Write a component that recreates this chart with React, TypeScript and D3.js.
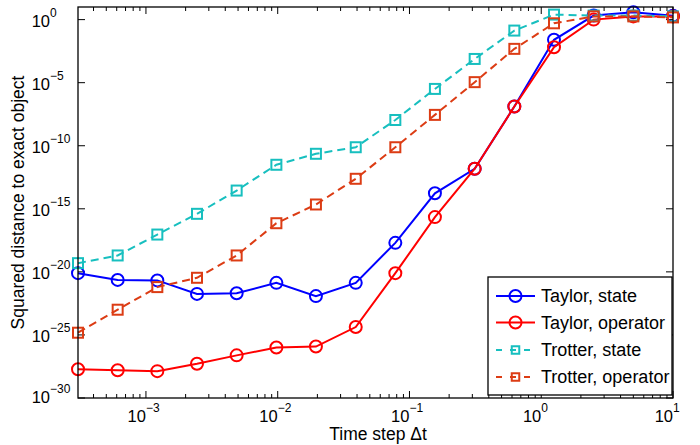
import React from "react";
import * as d3 from "d3";

// time steps (10 / 2^k)
const steps = [0.000305, 0.00061, 0.00122, 0.00244, 0.00488, 0.00977, 0.0195, 0.0391, 0.0781, 0.156, 0.3125, 0.625, 1.25, 2.5, 5, 10];

const taylorState = [7.9e-21, 2.3e-21, 2.1e-21, 1.8e-22, 2.0e-22, 1.35e-21, 1.2e-22, 1.35e-21, 2.0e-18, 1.7e-14, 1.5e-12, 1.3e-7, 0.025, 2.1, 3.8, 2.0];
const taylorOperator = [1.9e-28, 1.6e-28, 1.35e-28, 5.2e-28, 2.4e-27, 1.0e-26, 1.2e-26, 4.2e-25, 7.9e-21, 2.2e-16, 1.5e-12, 1.3e-7, 6.5e-3, 1.0, 1.8, 1.8];
const trotterState = [4.9e-20, 2.0e-19, 9.1e-18, 4.0e-16, 2.8e-14, 3.1e-12, 2.3e-11, 7.6e-11, 1.1e-8, 3.2e-6, 7.6e-4, 0.135, 2.5, 2.1, 2.1, 1.8];
const trotterOperator = [1.5e-25, 1.0e-23, 6.2e-22, 3.4e-21, 2.0e-19, 7.2e-17, 2.2e-15, 2.4e-13, 7.6e-11, 2.8e-8, 1.1e-5, 4.8e-3, 0.51, 1.8, 1.8, 1.5];

const seriesNames = ["Taylor, state", "Taylor, operator", "Trotter, state", "Trotter, operator"];

const xTickExps = [-3, -2, -1, 0, 1];
const yTickExps = [0, -5, -10, -15, -20, -25, -30];

const W = 700, H = 445;
const left = 78, right = 673, top = 7, bottom = 398;
const font = "Liberation Sans, Arial, sans-serif";

export default function App() {
  const x = d3.scaleLog().domain([steps[0], 10]).range([left, right]);
  const y = d3.scaleLog().domain([1e-30, 1e1]).range([bottom, top]);

  const series = [
    { name: seriesNames[0], vals: taylorState, color: "#0000ff", dash: null, mark: "o" },
    { name: seriesNames[1], vals: taylorOperator, color: "#ff0000", dash: null, mark: "o" },
    { name: seriesNames[2], vals: trotterState, color: "#17bfbf", dash: "8,5", mark: "s" },
    { name: seriesNames[3], vals: trotterOperator, color: "#dc3c14", dash: "8,5", mark: "s" },
  ];

  const line = d3.line<number>().x((d, i) => x(steps[i])).y(d => y(d));

  // minor x ticks
  const minorX: number[] = [];
  for (let e = -4; e <= 0; e++) {
    for (let m = 2; m <= 9; m++) {
      const v = m * Math.pow(10, e);
      if (v >= steps[0] && v <= 10) minorX.push(v);
    }
  }

  const marker = (mark: string, cx: number, cy: number, color: string, key: any, size = 1) =>
    mark === "o" ? (
      <circle key={key} cx={cx} cy={cy} r={6 * size} fill="none" stroke={color} strokeWidth={2} />
    ) : (
      <rect key={key} x={cx - 5 * size} y={cy - 5 * size} width={10 * size} height={10 * size} fill="none" stroke={color} strokeWidth={2} />
    );

  const lgX = 488, lgY = 277, lgW = 184, lgH = 118;
  const lgRows = [296, 322.5, 350, 377];

  return (
    <svg width={W} height={H} style={{ position: "absolute", left: 0, top: 0, background: "#fff" }} fontFamily={font}>
      <rect x={0} y={0} width={W} height={H} fill="#fff" />
      {/* ticks */}
      <g stroke="#000" strokeWidth={1}>
        {xTickExps.map(e => {
          const px = x(Math.pow(10, e));
          return (
            <g key={"xt" + e}>
              <line x1={px} x2={px} y1={bottom} y2={bottom - 7} />
              <line x1={px} x2={px} y1={top} y2={top + 7} />
            </g>
          );
        })}
        {minorX.map((v, i) => {
          const px = x(v);
          return (
            <g key={"xm" + i}>
              <line x1={px} x2={px} y1={bottom} y2={bottom - 4} />
              <line x1={px} x2={px} y1={top} y2={top + 4} />
            </g>
          );
        })}
        {yTickExps.map(e => {
          const py = y(Math.pow(10, e));
          return (
            <g key={"yt" + e}>
              <line x1={left} x2={left + 7} y1={py} y2={py} />
              <line x1={right} x2={right - 7} y1={py} y2={py} />
            </g>
          );
        })}
      </g>
      {/* tick labels */}
      <g fill="#000">
        {xTickExps.map(e => {
          const px = x(Math.pow(10, e));
          return (
            <g key={"xl" + e}>
              <text x={px} y={422} fontSize={16.5} textAnchor="end">10</text>
              <text x={px} y={412} fontSize={12}>{e < 0 ? "\u2212" + -e : e}</text>
            </g>
          );
        })}
        {yTickExps.map(e => {
          const py = y(Math.pow(10, e));
          const ly = e === -30 ? py - 2 : py;
          return (
            <g key={"yl" + e}>
              <text x={50} y={ly + 7} fontSize={16.5} textAnchor="end">10</text>
              <text x={50} y={ly - 3} fontSize={12}>{e < 0 ? "\u2212" + -e : e}</text>
            </g>
          );
        })}
      </g>
      {/* axis labels */}
      <text x={378} y={440} fontSize={17.5} textAnchor="middle">Time step Δt</text>
      <text transform={`translate(24,${(top + bottom) / 2}) rotate(-90)`} fontSize={17.5} textAnchor="middle">
        Squared distance to exact object
      </text>
      {/* series */}
      {series.map((s, si) => (
        <g key={"s" + si}>
          <path d={line(s.vals) || ""} fill="none" stroke={s.color} strokeWidth={2} strokeDasharray={s.dash || undefined} />
          {s.vals.map((v, i) => marker(s.mark, x(steps[i]), y(v), s.color, i))}
        </g>
      ))}
      {/* box */}
      <rect x={left} y={top} width={right - left} height={bottom - top} fill="none" stroke="#000" strokeWidth={1.3} />
      {/* legend */}
      <rect x={lgX} y={lgY} width={lgW} height={lgH} fill="#fff" stroke="#000" strokeWidth={1.3} />
      {series.map((s, i) => (
        <g key={"lg" + i}>
          <line x1={496} x2={535} y1={lgRows[i]} y2={lgRows[i]} stroke={s.color} strokeWidth={2}
            strokeDasharray={s.dash ? "6,8" : undefined} />
          {s.mark === "o"
            ? marker("o", 515.5, lgRows[i], s.color, "m", 1)
            : marker("s", 515.5, lgRows[i], s.color, "m", 0.75)}
          <text x={541} y={lgRows[i] + 6} fontSize={18}>{s.name}</text>
        </g>
      ))}
    </svg>
  );
}
